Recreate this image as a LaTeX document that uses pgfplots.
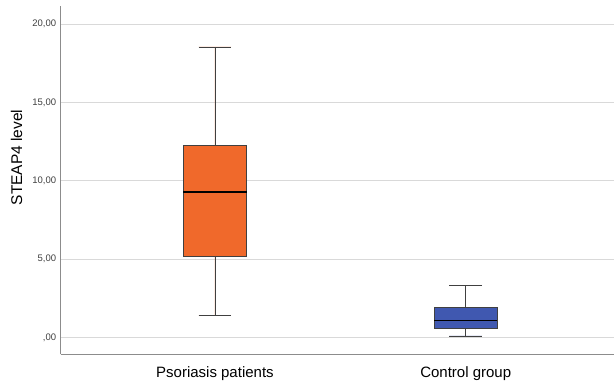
\documentclass[border=0pt]{standalone}
\usepackage{pgfplots}
\pgfplotsset{compat=1.18}
\usepgfplotslibrary{statistics}
\usepackage{fontspec}
\setmainfont{Liberation Sans}
\definecolor{boxorange}{HTML}{F0692B}
\definecolor{boxblue}{HTML}{4058B0}
\definecolor{gridgray}{HTML}{D9D9D9}
\definecolor{axisgray}{HTML}{8C8C8C}
\begin{document}
\begin{tikzpicture}
\path[use as bounding box] (-60.7pt,-30.7pt) rectangle (554.3pt,354.3pt);
\begin{axis}[
  at={(0,0)}, anchor=south west,
  scale only axis,
  width=553pt, height=348.3pt,
  xmin=0.385, xmax=2.59,
  ymin=-1.06, ymax=21.15,
  xtick={1,2},
  xticklabels={Psoriasis patients, Control group},
  ytick={0,5,10,15,20},
  yticklabels={{,00},{5,00},{10,00},{15,00},{20,00}},
  axis x line*=bottom, axis y line*=left,
  axis line style={axisgray, line width=0.9pt},
  every outer x axis line/.append style={-},
  every outer y axis line/.append style={-},
  ymajorgrids,
  grid style={gridgray, line width=0.9pt},
  major tick length=0pt,
  tick style={draw=none},
  x tick label style={font=\fontsize{15}{16}\selectfont, text=black, yshift=-9pt},
  y tick label style={font=\fontsize{9.5}{10}\selectfont, text=black!75, xshift=-1pt},
  ylabel={STEAP4 level},
  ylabel style={font=\fontsize{15.5}{17}\selectfont, at={(axis description cs:-0.0796,0.565)}, anchor=center},
  boxplot/draw direction=y,
  boxplot/every median/.style={draw=black, line width=1.2pt},
]
\addplot+[boxplot prepared={
    draw position=1,
    median=9.29, upper quartile=12.29, lower quartile=5.16,
    upper whisker=18.54, lower whisker=1.40,
    box extend=0.252, whisker extend=0.13},
  fill=boxorange, draw=black!75, line width=0.8pt,
  solid, mark=none]
  coordinates {};
\addplot+[boxplot prepared={
    draw position=2,
    median=1.08, upper quartile=1.91, lower quartile=0.60,
    upper whisker=3.32, lower whisker=0.11,
    box extend=0.25, whisker extend=0.13},
  fill=boxblue, draw=black!75, line width=0.8pt,
  solid, mark=none]
  coordinates {};
\end{axis}
\end{tikzpicture}
\end{document}
